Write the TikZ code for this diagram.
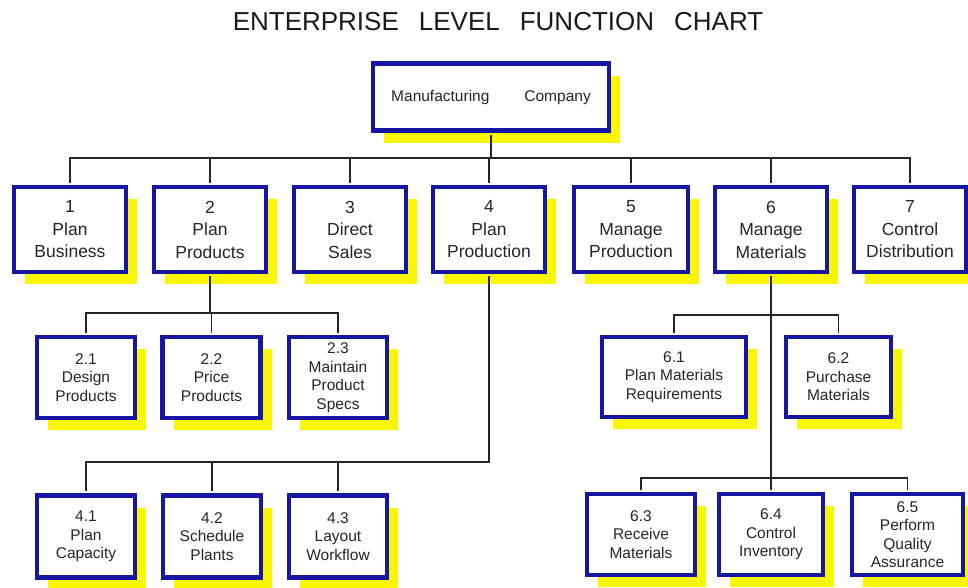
\documentclass[tikz,border=0pt]{standalone}
\usepackage{fontspec}
\setmainfont{Liberation Sans}
\usetikzlibrary{shadows}

\definecolor{chartblue}{RGB}{22,22,165}
\definecolor{shadowyellow}{RGB}{250,246,0}

\tikzset{
  funcbox/.style={draw=chartblue, line width=4.5pt, fill=white, inner sep=0pt,
    align=center, text=black!85,
    drop shadow={shadow xshift=11pt, shadow yshift=-12pt, fill=shadowyellow, opacity=1},
    font=\fontsize{17.5}{22.5}\selectfont, minimum width=112pt, minimum height=85pt},
  subbox/.style={funcbox, font=\fontsize{15.5}{18.5}\selectfont,
    minimum width=98pt, minimum height=81pt},
  wire/.style={draw=black!85, line width=1.7pt, shorten <=2.2pt, shorten >=2.2pt}
}

\begin{document}
\begin{tikzpicture}[x=1pt, y=-1pt]
  \useasboundingbox (0,0) rectangle (968,587);

  \node[font=\fontsize{26}{30}\selectfont, text=black!90] (title) at (498,22)
    {ENTERPRISE\hspace{20pt}LEVEL\hspace{20pt}FUNCTION\hspace{20pt}CHART};

  % top
  \node[funcbox, minimum width=236pt, minimum height=67pt,
        font=\fontsize{15.5}{18}\selectfont] (mfg) at (491,97)
    {Manufacturing\hspace{35pt}Company};

  % level 1
  \node[funcbox] (b1) at (70,229.5)  {1\\Plan\\Business};
  \node[funcbox] (b2) at (210,229.5) {2\\Plan\\Products};
  \node[funcbox] (b3) at (350,229.5) {3\\Direct\\Sales};
  \node[funcbox] (b4) at (489,229.5) {4\\Plan\\Production};
  \node[funcbox, minimum width=114pt] (b5) at (631,229.5) {5\\Manage\\Production};
  \node[funcbox] (b6) at (771,229.5) {6\\Manage\\Materials};
  \node[funcbox] (b7) at (910,229.5) {7\\Control\\Distribution};

  % level 2 under 2
  \node[subbox] (s21) at (86,377.5)  {2.1\\Design\\Products};
  \node[subbox] (s22) at (211.5,377.5) {2.2\\Price\\Products};
  \node[subbox] (s23) at (338,377.5) {2.3\\Maintain\\Product\\Specs};

  % level 2 under 4
  \node[subbox, minimum height=82pt] (s41) at (86,536.5)  {4.1\\Plan\\Capacity};
  \node[subbox, minimum height=82pt] (s42) at (212,536.5) {4.2\\Schedule\\Plants};
  \node[subbox, minimum height=82pt] (s43) at (338,536.5) {4.3\\Layout\\Workflow};

  % level 2 under 6
  \node[subbox, minimum width=144pt, minimum height=80pt] (s61) at (674,377)
    {6.1\\Plan Materials\\Requirements};
  \node[subbox, minimum width=105pt, minimum height=80pt] (s62) at (838.5,377)
    {6.2\\Purchase\\Materials};
  \node[subbox, minimum width=108pt] (s63) at (641,534.5) {6.3\\Receive\\Materials};
  \node[subbox, minimum width=104pt] (s64) at (771,534.5) {6.4\\Control\\Inventory};
  \node[subbox, minimum width=111pt] (s65) at (907.5,534.5)
    {6.5\\Perform\\Quality\\Assurance};

  % buses
  \coordinate (bus1) at (0,158);
  \coordinate (bus2) at (0,313);
  \coordinate (bus4) at (0,462);
  \coordinate (bus6a) at (0,315);
  \coordinate (bus6b) at (0,478);

  \foreach \n in {b1,b2,b3,b4,b5,b6,b7}
    \draw[wire] (mfg.south) -- (mfg.south |- bus1) -| (\n.north);
  \foreach \n in {s21,s22,s23}
    \draw[wire] (b2.south) -- (b2.south |- bus2) -| (\n.north);
  \foreach \n in {s41,s42,s43}
    \draw[wire] (b4.south) -- (b4.south |- bus4) -| (\n.north);
  \foreach \n in {s61,s62}
    \draw[wire] (b6.south) -- (b6.south |- bus6a) -| (\n.north);
  \foreach \n in {s63,s65}
    \draw[wire] (b6.south) -- (b6.south |- bus6b) -| (\n.north);
  \draw[wire] (b6.south) -- (s64.north);
\end{tikzpicture}
\end{document}
